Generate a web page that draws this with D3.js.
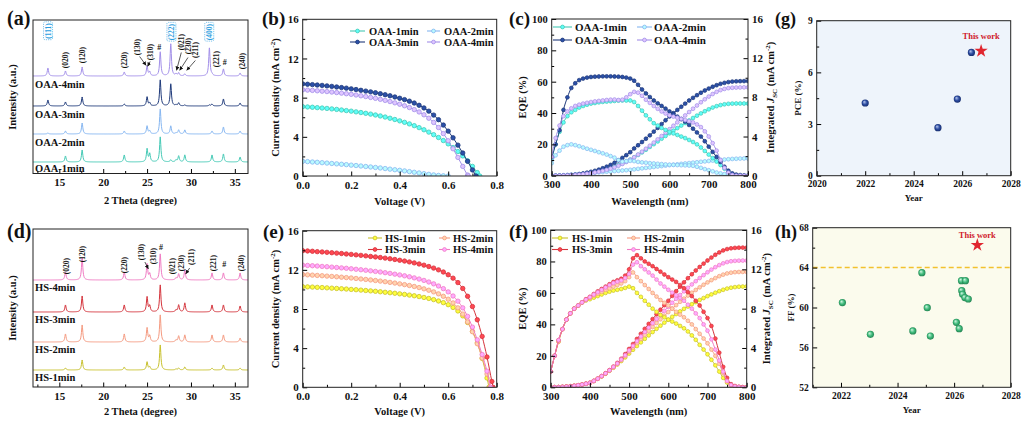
<!DOCTYPE html>
<html><head><meta charset="utf-8">
<script src="https://cdn.jsdelivr.net/npm/d3@7"></script>
<style>
body{margin:0;background:#fff;}
svg{display:block;}
text{font-family:"Liberation Serif","Times New Roman",serif;font-weight:bold;fill:#111;}
</style>
</head><body>
<svg id="c" width="1024" height="426"></svg>
<script>
// ---------------- DATA ----------------
const oaaNames = ['OAA-1min','OAA-2min','OAA-3min','OAA-4min'];
const hsNames  = ['HS-1min','HS-2min','HS-3min','HS-4min'];
const oaaColors = ['#45c9b5','#86b6f0','#1f3a7a','#a28fe8'];
const hsColors  = ['#c8c12c','#f59a80','#d5343c','#f07cc3'];

// XRD peaks (2theta) and per-sample intensities (a.u.), vertical offsets
const xrdPosA = [13.7,15.7,17.6,22.4,25.0,25.3,26.5,27.7,28.3,28.6,29.3,32.1,32.4,33.7,35.6];
const xrdOAA1 = [0,6,12,7,13,8,25,2,2,6,7,0,7,8,5];
const xrdOAA2 = [1,3,11,3,8,3,25,8,1,4,4,0,3,7,3];
const xrdOAA3 = [6,4,9,2,9,3,26,22,1,3,1,1,2,7,3];
const xrdOAA4 = [8,5,9,4,10,4,24,32,2,3,2,28,1,7,3];
const xrdOffsetOAA = [11.5,39.5,67.5,97.5];

const xrdPosD = [15.7,17.6,22.4,25.0,25.3,26.5,28.3,28.6,29.3,32.4,33.7,35.6];
const xrdHS1 = [2,10,3,8,3,25,1,2,3,2,5,2];
const xrdHS2 = [8,17,8,14,6,27,2,6,7,7,7,4];
const xrdHS3 = [7,16,7,15,6,27,2,7,9,7,7,6];
const xrdHS4 = [8,22,8,16,6,26,2,6,10,7,7,7];
const xrdOffsetHS = [17,45,75,107];

// peak labels: [text, 2theta, height(a.u.), highlighted]
const peakLabelsA = [['(111)',13.7,142.5,1],['(020)',15.7,113.5,0],['(120)',17.6,118.5,0],['(220)',22.4,113.5,0],
 ['(130)',23.9,126.5,0],['(310)',25.35,121.5,0],['(222)',27.76,141.5,1],['(021)',28.9,131.5,0],['(230)',29.66,127.5,0],
 ['(211)',30.5,123.5,0],['(400)',32.07,141.5,1],['(221)',32.85,114.5,0],['(240)',35.83,112.5,0]];
const hashA = [[26.4,124],[33.86,109]];
const arrowsA = [[24.15,117,24.9,108],[25.35,112,25.05,107],[28.9,121,28.35,103],[29.66,116,28.7,103],[30.5,113,29.5,103]];
const peakLabelsD = [['(020)',15.76,121],['(120)',17.6,133],['(220)',22.4,122],['(130)',24.3,135],['(310)',25.74,131],
 ['(021)',27.9,121],['(230)',28.9,124],['(211)',30.05,130],['(221)',32.6,124],['(240)',35.8,124]];
const hashD = [[26.6,137],[33.8,120]];
const arrowsD = [[24.75,125,25.15,118],[29.85,119,29.4,113]];

// J-V curves (V, mA cm-2)
const voltage = d3.range(0, 40).map(i => +(i * 0.02).toFixed(2));
const jOAA1 = [7.08,7.05,7.02,6.98,6.94,6.90,6.85,6.80,6.74,6.68,6.62,6.55,6.48,6.40,6.32,6.23,6.13,6.02,5.90,5.77,5.63,5.48,5.32,5.14,4.94,4.72,4.48,4.22,3.93,3.62,3.28,2.91,2.50,2.05,1.55,0.98,0.35];
const jOAA2 = [1.50,1.47,1.43,1.40,1.36,1.32,1.28,1.24,1.20,1.16,1.11,1.07,1.02,0.97,0.92,0.87,0.82,0.76,0.70,0.64,0.58,0.52,0.45,0.38,0.31,0.24,0.17,0.11,0.06,0.02];
const jOAA3 = [9.40,9.37,9.33,9.29,9.25,9.20,9.15,9.09,9.03,8.97,8.90,8.83,8.75,8.67,8.59,8.50,8.40,8.30,8.19,8.07,7.94,7.80,7.64,7.45,7.22,6.95,6.62,6.22,5.75,5.20,4.58,3.90,3.15,2.35,1.50,0.62];
const jOAA4 = [8.80,8.77,8.74,8.70,8.66,8.62,8.57,8.52,8.46,8.40,8.34,8.27,8.19,8.11,8.02,7.93,7.83,7.72,7.60,7.47,7.33,7.17,6.99,6.78,6.54,6.25,5.90,5.47,4.95,4.33,3.60,2.78,1.90,0.98,0.10];
const vocOAA = [0.73,0.60,0.715,0.683];
const jHS1 = [10.28,10.26,10.24,10.21,10.19,10.16,10.13,10.10,10.07,10.04,10.00,9.97,9.93,9.89,9.85,9.81,9.76,9.71,9.66,9.61,9.55,9.49,9.42,9.35,9.27,9.18,9.08,8.96,8.82,8.65,8.44,8.16,7.80,7.30,6.62,5.72,4.55,2.95,0.95];
const jHS2 = [11.52,11.49,11.46,11.43,11.40,11.36,11.33,11.29,11.25,11.21,11.17,11.12,11.07,11.02,10.97,10.91,10.85,10.79,10.72,10.65,10.57,10.49,10.40,10.30,10.19,10.06,9.92,9.75,9.55,9.30,9.00,8.62,8.12,7.48,6.68,5.68,4.45,3.00,1.35];
const jHS3 = [13.96,13.93,13.90,13.86,13.83,13.79,13.75,13.71,13.67,13.62,13.58,13.53,13.48,13.43,13.37,13.32,13.26,13.20,13.13,13.06,12.98,12.90,12.81,12.71,12.60,12.48,12.34,12.18,12.00,11.78,11.50,11.15,10.70,10.10,9.30,8.25,6.90,5.20,3.10,0.60];
const jHS4 = [12.48,12.45,12.42,12.39,12.35,12.32,12.28,12.24,12.20,12.16,12.11,12.06,12.01,11.96,11.90,11.84,11.78,11.71,11.64,11.56,11.48,11.39,11.29,11.18,11.06,10.92,10.76,10.57,10.35,10.08,9.75,9.33,8.80,8.12,7.25,6.15,4.85,3.35,1.65];
const vocHS = [0.768,0.772,0.785,0.775];

// EQE (%) and integrated Jsc (mA cm-2), 300-800 nm
const wavelength = d3.range(300, 801, 10);
const eqeOAA1 = [10,20,28,34,38,40.5,42,43.5,44.5,45.3, 46,46.4,46.8,47.1,47.3,47.5,47.7,47.9,48,48, 48,47,44.5,41.5,38.5,36,33.5,32,30.5,29.2, 28,27,26,25,24,22.8,21.5,20,18,15.8, 13.5,11.2,9,6.8,4.5,2.5,1,0.3,0,0, 0];
const eqeOAA2 = [8,13,16,18.5,19.5,20,19.5,18.8,18,17.2, 16.5,15.8,15,14.3,13.5,12.5,11.5,10,9,9.3, 9.5,9.3,8.8,8.5,8.3,8,7.8,7.6,7.4,7.2, 7,6.9,6.8,6.7,6.6,6.5,6.3,5.7,5,4.2, 3.5,2.8,2,1.5,1,0.6,0.3,0.1,0,0, 0];
const eqeOAA3 = [12,20,29,42,50,56,59,61,62,62.6, 63,63.2,63.3,63.4,63.4,63.4,63.3,63.2,63,62.6, 62,60.6,58,55,52.5,50.2,48,46.2,44.5,42.8, 41,39.3,37.7,36.1,34.5,32.4,30,27.6,25,22, 18.5,15.2,12,8.8,5.7,3.2,1.5,0.7,0.4,0.2, 0];
const eqeOAA4 = [12,24,32,38,41,43,44.5,45.3,46,46.5, 47,47.4,47.7,48,48.3,48.5,48.6,48.3,48.5,50, 52,53.5,53,51,48.5,46.5,44.5,42.7,41,39.7, 38.5,37.7,37,36.2,35.5,34.8,34,32.7,31,28.3, 25,20.8,16,10,5,2,0.5,0,0,0, 0];
const jscOAA1 = [0,0,0.01,0.02,0.03,0.05,0.08,0.12,0.17,0.22, 0.28,0.35,0.44,0.54,0.65,0.78,0.92,1.08,1.26,1.45, 1.65,1.88,2.12,2.38,2.65,2.94,3.22,3.50,3.78,4.06, 4.33,4.60,4.86,5.12,5.38,5.64,5.89,6.13,6.36,6.58, 6.78,6.96,7.10,7.21,7.29,7.34,7.36,7.37,7.37,7.37, 7.37];
const jscOAA2 = [0,0.01,0.03,0.05,0.08,0.11,0.14,0.17,0.21,0.24, 0.27,0.31,0.34,0.37,0.41,0.44,0.47,0.50,0.53,0.56, 0.60,0.65,0.70,0.75,0.80,0.84,0.89,0.94,0.98,1.03, 1.08,1.12,1.16,1.21,1.25,1.29,1.33,1.37,1.42,1.46, 1.50,1.54,1.58,1.62,1.65,1.68,1.71,1.73,1.75,1.76, 1.76];
const jscOAA3 = [0,0,0.01,0.02,0.04,0.07,0.11,0.16,0.23,0.31, 0.40,0.50,0.62,0.76,0.92,1.10,1.32,1.56,1.82,2.10, 2.40,2.78,3.11,3.44,3.78,4.12,4.50,4.88,5.27,5.66, 6.05,6.39,6.72,7.04,7.36,7.68,7.95,8.22,8.47,8.70, 8.90,9.08,9.24,9.38,9.48,9.56,9.61,9.64,9.65,9.66, 9.66];
const jscOAA4 = [0,0,0.01,0.02,0.03,0.05,0.08,0.11,0.15,0.20, 0.26,0.33,0.41,0.50,0.60,0.72,0.86,1.02,1.20,1.40, 1.62,1.88,2.16,2.45,2.75,3.06,3.38,3.71,4.05,4.40, 4.75,5.10,5.45,5.80,6.15,6.50,6.84,7.17,7.50,7.80, 8.08,8.34,8.56,8.74,8.86,8.94,8.98,9.00,9.01,9.02, 9.02];
const eqeHS1 = [10,20,29,37,43,47,50,52,54,55.2, 56,57,58,59,60,60.8,61.5,62,62.5,63.2, 64,63,60,57.5,55,52.5,50,48,46,44.5, 43,41.8,40.5,39,37.5,35.5,33,30.2,27,24, 21,17.5,14,10,6,3,1,0.3,0,0, 0];
const eqeHS2 = [10,20,29,37,43,47,50,52,54,55.5, 57,58.3,59.5,60.7,62,63,64,65,66,67.5, 70,73,70,67.5,65,62.5,60,57.7,55.5,53.7, 52,50,48,46.2,44.5,42.3,40,37,34,31, 28,24,20,15,9,4,1.5,0.5,0.2,0, 0];
const eqeHS3 = [10,20,30,37,43,47,50,52,54,56, 57.5,59.3,61,62.5,64,65.5,67,68,69,71, 75,82,84,82,80,78.5,77,75.2,73.5,71.7, 70,68.5,67,65,63,60.5,58,55,52,48, 44,39,31,22,13,6,2,0.8,0.3,0.1, 0];
const eqeHS4 = [10,20,30,37,43,47,50,52,54,55.8, 57.3,59,60.5,62,63.5,65,66.3,67.2,68,69.5, 72,78,79.5,77,75,73,71,68.5,66,64, 62,60.2,58.5,56.8,55,52.5,50,47,44,40, 36,30.5,24,17,10,4,1.5,0.5,0.2,0, 0];
const jscHS1 = [0,0.01,0.02,0.04,0.07,0.10,0.15,0.21,0.28,0.36, 0.45,0.64,0.86,1.11,1.38,1.68,1.99,2.32,2.67,3.04, 3.43,3.82,4.20,4.57,4.93,5.28,5.62,5.95,6.27,6.58, 6.88,7.17,7.45,7.72,7.98,8.22,8.45,8.67,8.88,9.08, 9.27,9.45,9.62,9.78,9.92,10.04,10.13,10.19,10.23,10.25, 10.26];
const jscHS2 = [0,0.01,0.02,0.04,0.07,0.10,0.15,0.21,0.28,0.36, 0.45,0.65,0.88,1.13,1.41,1.70,2.03,2.38,2.76,3.17, 3.61,4.05,4.49,4.92,5.34,5.75,6.15,6.54,6.92,7.29, 7.65,8.01,8.36,8.70,9.02,9.33,9.62,9.90,10.17,10.43, 10.67,10.90,11.11,11.30,11.46,11.58,11.66,11.71,11.73,11.74, 11.74];
const jscHS3 = [0,0.01,0.02,0.04,0.07,0.10,0.15,0.21,0.28,0.36, 0.45,0.65,0.88,1.14,1.43,1.75,2.10,2.48,2.90,3.38, 3.90,4.40,4.92,5.44,5.95,6.45,6.94,7.42,7.89,8.35, 8.80,9.30,9.78,10.24,10.68,11.10,11.50,11.88,12.24,12.58, 12.90,13.20,13.48,13.72,13.92,14.06,14.14,14.18,14.20,14.21, 14.21];
const jscHS4 = [0,0.01,0.02,0.04,0.07,0.10,0.15,0.21,0.28,0.36, 0.45,0.65,0.88,1.14,1.42,1.73,2.07,2.43,2.83,3.27, 3.75,4.22,4.70,5.17,5.63,6.08,6.52,6.95,7.37,7.78, 8.18,8.60,9.00,9.39,9.76,10.12,10.46,10.79,11.11,11.41, 11.70,11.97,12.22,12.43,12.61,12.74,12.82,12.86,12.88,12.89, 12.89];

// literature comparison
const pceYears = [2022.0, 2025.0, 2025.8, 2026.38];
const pceValues = [4.22, 2.79, 4.45, 7.16];
const pceThisWork = [2026.78, 7.24];
const ffYears = [2022.05, 2023.04, 2024.54, 2024.86, 2025.05, 2025.16, 2026.08, 2026.18, 2026.26, 2026.40, 2026.27, 2026.30, 2026.38, 2026.50];
const ffValues = [60.49, 57.31, 57.65, 63.49, 59.98, 57.14, 58.51, 57.88, 62.69, 62.69, 61.69, 61.32, 60.99, 60.85];
const ffThisWork = [2026.82, 66.26];
const ffBenchmark = 64;

// ---------------- DRAW ----------------
const svg = d3.select('#c');
const defs = svg.append('defs');
defs.append('marker').attr('id','arr').attr('viewBox','0 0 6 6').attr('refX',6).attr('refY',3)
  .attr('markerWidth',4).attr('markerHeight',4).attr('markerUnits','userSpaceOnUse').attr('orient','auto')
  .append('path').attr('d','M0,0L6,3L0,6z').attr('fill','#111');
function sphereGrad(id, c0, c1, c2){
  const g = defs.append('radialGradient').attr('id',id).attr('cx','50%').attr('cy','50%').attr('r','55%').attr('fx','35%').attr('fy','32%');
  g.append('stop').attr('offset','0%').attr('stop-color',c0);
  g.append('stop').attr('offset','55%').attr('stop-color',c1);
  g.append('stop').attr('offset','100%').attr('stop-color',c2);
}
sphereGrad('gBlue','#b9c9f0','#2b4ba0','#142a68');
sphereGrad('gGreen','#d4f7e4','#40bb7c','#1d7a4a');

let clipN = 0;
function panel(o){
  const x = d3.scaleLinear().domain(o.xd).range([o.l,o.r]);
  const y = d3.scaleLinear().domain(o.yd).range([o.b,o.t]);
  const g = svg.append('g');
  if (o.bg) g.append('rect').attr('x',o.l).attr('y',o.t).attr('width',o.r-o.l).attr('height',o.b-o.t).attr('fill',o.bg);
  const id = 'clip'+(clipN++);
  defs.append('clipPath').attr('id',id).append('rect').attr('x',o.l).attr('y',o.t).attr('width',o.r-o.l).attr('height',o.b-o.t);
  const plot = g.append('g').attr('clip-path',`url(#${id})`);
  return {x,y,g,plot,o};
}
function axes(p, a){
  const {x,y,g,o} = p;
  const fs = a.fs || 11;
  const fsy = a.fsy || fs;
  const clean = s => s.select('.domain').remove();
  if (a.xMinor) g.append('g').attr('transform',`translate(0,${o.b})`).call(d3.axisBottom(x).tickValues(a.xMinor).tickSize(-2.5).tickFormat('')).call(clean);
  g.append('g').attr('transform',`translate(0,${o.b})`).call(d3.axisBottom(x).tickValues(a.xTicks).tickSize(-4.5).tickPadding(5).tickFormat(a.xFmt||d3.format('d'))).call(clean).attr('font-size',fs);
  if (a.yTicks){
    if (a.yMinor) g.append('g').attr('transform',`translate(${o.l},0)`).call(d3.axisLeft(y).tickValues(a.yMinor).tickSize(-2.5).tickFormat('')).call(clean);
    g.append('g').attr('transform',`translate(${o.l},0)`).call(d3.axisLeft(y).tickValues(a.yTicks).tickSize(-4.5).tickPadding(4).tickFormat(a.yFmt||d3.format('d'))).call(clean).attr('font-size',fsy);
  }
  if (a.y2){
    if (a.y2Minor) g.append('g').attr('transform',`translate(${o.r},0)`).call(d3.axisRight(a.y2).tickValues(a.y2Minor).tickSize(-2.5).tickFormat('')).call(clean);
    g.append('g').attr('transform',`translate(${o.r},0)`).call(d3.axisRight(a.y2).tickValues(a.y2Ticks).tickSize(-4.5).tickPadding(4).tickFormat(d3.format('d'))).call(clean).attr('font-size',fs);
  }
}
function frame(p){
  const o = p.o;
  p.g.append('rect').attr('x',o.l).attr('y',o.t).attr('width',o.r-o.l).attr('height',o.b-o.t)
    .attr('fill','none').attr('stroke','#222').attr('stroke-width',1);
}
function label(txt, x, y, fs){ svg.append('text').attr('x',x).attr('y',y).attr('font-size',fs||20).text(txt); }
function xTitle(txt, cx, y, fs){ svg.append('text').attr('x',cx).attr('y',y).attr('text-anchor','middle').attr('font-size',fs||10.5).text(txt); }
function yTitle(parts, cx, cy, fs){
  const t = svg.append('text').attr('transform',`translate(${cx},${cy}) rotate(-90)`).attr('text-anchor','middle').attr('font-size',fs||10.5);
  parts.forEach(pt => {
    const s = t.append('tspan').text(pt.t);
    if (pt.dy) s.attr('dy',pt.dy);
    if (pt.fs) s.attr('font-size',pt.fs);
    if (pt.it) s.attr('font-style','italic');
  });
}
const jTitle = [{t:'Current density (mA cm'},{t:'-2',fs:7,dy:-4},{t:')',dy:4}];
const jscTitle = [{t:'Integrated '},{t:'J',it:1},{t:'SC',fs:7,dy:3},{t:' (mA cm',dy:-3},{t:'-2',fs:7,dy:-4},{t:')',dy:4}];

function legend(names, colors, cols, rows, fs, tx){
  names.forEach((n,i)=>{
    const c = i%2, r = Math.floor(i/2);
    const [x1,x2] = cols[c];
    const g = svg.append('g');
    g.append('line').attr('x1',x1).attr('x2',x2).attr('y1',rows[r]).attr('y2',rows[r]).attr('stroke',colors[i]).attr('stroke-width',1.1);
    g.append('circle').attr('cx',(x1+x2)/2).attr('cy',rows[r]).attr('r',1.9).attr('fill',d3.color(colors[i]).brighter(0.9)).attr('stroke',colors[i]).attr('stroke-width',0.8);
    g.append('text').attr('x',tx[c]).attr('y',rows[r]).attr('dy','0.35em').attr('font-size',fs).text(n);
  });
}

// XRD
function xrdPanel(p, pos, sets, offsets, colors, names, labels, hashes, arrows, nameDy, nameMax){
  const grid = d3.range(12, 36.55, 0.04).concat(pos).sort((a,b)=>a-b);
  sets.forEach((hs,k)=>{
    const pts = grid.map(t => [t, offsets[k] + d3.sum(pos, (pp,i)=> hs[i]/(1+Math.pow((t-pp)/0.09,2)))]);
    p.plot.append('path').attr('d', d3.line().x(d=>p.x(d[0])).y(d=>p.y(d[1]))(pts))
      .attr('fill','none').attr('stroke',colors[k]).attr('stroke-width',1);
    const ly = Math.min(p.y(offsets[k]) + nameDy, nameMax);
    svg.append('text').attr('x',p.o.l+2).attr('y',ly).attr('font-size',10.5).text(names[k]);
  });
  labels.forEach(l=>{
    const g = svg.append('g').attr('transform',`translate(${p.x(l[1])},${p.y(l[2])}) rotate(-90)`);
    const t = g.append('text').attr('text-anchor','middle').attr('dy','0.35em').attr('font-size',7.5).text(l[0]);
    if (l[3]){
      t.style('fill','#2a9de0');
      const bb = t.node().getBBox();
      g.insert('rect','text').attr('x',bb.x-1).attr('y',bb.y).attr('width',bb.width+2).attr('height',bb.height)
        .attr('rx',1.5).attr('fill','none').attr('stroke','#2a9de0').attr('stroke-width',0.6).attr('stroke-dasharray','1.2,1');
    }
  });
  hashes.forEach(h=> svg.append('text').attr('x',p.x(h[0])).attr('y',p.y(h[1])).attr('text-anchor','middle').attr('font-size',8).text('#'));
  arrows.forEach(a=> svg.append('line').attr('x1',p.x(a[0])).attr('y1',p.y(a[1])).attr('x2',p.x(a[2])).attr('y2',p.y(a[3]))
    .attr('stroke','#111').attr('stroke-width',0.7).attr('marker-end','url(#arr)'));
}

// (a)
const pa = panel({l:33,r:248,t:20,b:173.5,xd:[12,36.5],yd:[0,153.5]});
xrdPanel(pa, xrdPosA, [xrdOAA1,xrdOAA2,xrdOAA3,xrdOAA4], xrdOffsetOAA, oaaColors, oaaNames, peakLabelsA, hashA, arrowsA, 12, 171.5);
axes(pa, {xTicks:[15,20,25,30,35], xMinor:[12.5,17.5,22.5,27.5,32.5], fs:11});
frame(pa);
label('(a)', 7, 25);
xTitle('2 Theta (degree)', 140.5, 204);
yTitle([{t:'Intensity (a.u.)'}], 16, 97);

// (d)
const pd = panel({l:33,r:248,t:229,b:387,xd:[12,36.5],yd:[0,158]});
xrdPanel(pd, xrdPosD, [xrdHS1,xrdHS2,xrdHS3,xrdHS4], xrdOffsetHS, hsColors, hsNames, peakLabelsD, hashD, arrowsD, 11, 383);
axes(pd, {xTicks:[15,20,25,30,35], xMinor:[12.5,17.5,22.5,27.5,32.5], fs:11});
frame(pd);
label('(d)', 7, 238);
xTitle('2 Theta (degree)', 140.5, 415);
yTitle([{t:'Intensity (a.u.)'}], 16, 308);

// J-V
function jvPanel(p, sets, vocs, colors){
  sets.forEach((js,k)=>{
    const pts = js.map((j,i)=>[voltage[i], j]).concat([[vocs[k], 0]]);
    p.plot.append('path').attr('d', d3.line().x(d=>p.x(d[0])).y(d=>p.y(d[1])).curve(d3.curveMonotoneX)(pts))
      .attr('fill','none').attr('stroke',colors[k]).attr('stroke-width',1);
    p.plot.selectAll(null).data(pts).enter().append('circle')
      .attr('cx',d=>p.x(d[0])).attr('cy',d=>p.y(d[1])).attr('r',2.2)
      .attr('fill',d3.color(colors[k]).brighter(0.9)).attr('stroke',colors[k]).attr('stroke-width',0.8);
  });
}
const pb = panel({l:302.7,r:496.7,t:19.3,b:176,xd:[0,0.8],yd:[0,16]});
jvPanel(pb, [jOAA1,jOAA2,jOAA3,jOAA4], vocOAA, oaaColors);
axes(pb, {xTicks:[0,0.2,0.4,0.6,0.8], xMinor:[0.1,0.3,0.5,0.7], xFmt:d3.format('.1f'), yTicks:[0,4,8,12,16], yMinor:[2,6,10,14]});
frame(pb);
legend(oaaNames, oaaColors, [[350,365],[427,440]], [31,42], 10.5, [369,444]);
label('(b)', 262, 25, 19);
xTitle('Voltage (V)', 399.7, 205);
yTitle(jTitle, 279, 97.6);

const pe = panel({l:302.7,r:496.7,t:230.7,b:387.3,xd:[0,0.8],yd:[0,16]});
jvPanel(pe, [jHS1,jHS2,jHS3,jHS4], vocHS, hsColors);
axes(pe, {xTicks:[0,0.2,0.4,0.6,0.8], xMinor:[0.1,0.3,0.5,0.7], xFmt:d3.format('.1f'), yTicks:[0,4,8,12,16], yMinor:[2,6,10,14]});
frame(pe);
legend(hsNames, hsColors, [[368,382],[439,450]], [238,249.5], 10.5, [385,453]);
label('(e)', 263, 238, 19);
xTitle('Voltage (V)', 399.7, 415);
yTitle(jTitle, 279, 309);

// EQE
function eqePanel(p, eqes, jscs, colors){
  const y2 = d3.scaleLinear().domain([0,16]).range(p.y.range());
  const draw = (arr, ys, k) => {
    const pts = arr.map((v,i)=>[wavelength[i], v]);
    p.plot.append('path').attr('d', d3.line().x(d=>p.x(d[0])).y(d=>ys(d[1])).curve(d3.curveMonotoneX)(pts))
      .attr('fill','none').attr('stroke',colors[k]).attr('stroke-width',1);
    p.plot.selectAll(null).data(pts).enter().append('circle')
      .attr('cx',d=>p.x(d[0])).attr('cy',d=>ys(d[1])).attr('r',1.9)
      .attr('fill',d3.color(colors[k]).brighter(0.9)).attr('stroke',colors[k]).attr('stroke-width',0.7);
  };
  jscs.forEach((a,k)=>draw(a, y2, k));
  eqes.forEach((a,k)=>draw(a, p.y, k));
  return y2;
}
const pc = panel({l:551.7,r:748,t:19,b:175.7,xd:[300,800],yd:[0,100]});
const pcY2 = eqePanel(pc, [eqeOAA1,eqeOAA2,eqeOAA3,eqeOAA4], [jscOAA1,jscOAA2,jscOAA3,jscOAA4], oaaColors);
axes(pc, {xTicks:[300,400,500,600,700,800], xMinor:[350,450,550,650,750], yTicks:[0,20,40,60,80,100], yMinor:[10,30,50,70,90], y2:pcY2, y2Ticks:[0,4,8,12,16], y2Minor:[2,6,10,14], fsy:10.5});
frame(pc);
legend(oaaNames, oaaColors, [[553,572],[637,652]], [27,40], 11, [575,654]);
label('(c)', 509, 25, 19);
xTitle('Wavelength (nm)', 649.8, 205);
yTitle([{t:'EQE (%)'}], 526, 97.3);
yTitle(jscTitle, 774, 97.3);

const pf = panel({l:550.7,r:746.7,t:230,b:387.3,xd:[300,800],yd:[0,100]});
const pfY2 = eqePanel(pf, [eqeHS1,eqeHS2,eqeHS3,eqeHS4], [jscHS1,jscHS2,jscHS3,jscHS4], hsColors);
axes(pf, {xTicks:[300,400,500,600,700,800], xMinor:[350,450,550,650,750], yTicks:[0,20,40,60,80,100], yMinor:[10,30,50,70,90], y2:pfY2, y2Ticks:[0,4,8,12,16], y2Minor:[2,6,10,14], fsy:10.5});
frame(pf);
legend(hsNames, hsColors, [[552,568],[627,640]], [238,249.5], 10.5, [572,644]);
label('(f)', 509, 238, 19);
xTitle('Wavelength (nm)', 648.7, 415);
yTitle([{t:'EQE (%)'}], 526, 308.6);
yTitle(jscTitle, 770, 308.6);

// (g) PCE comparison
const pg = panel({l:816.7,r:1010.7,t:20.7,b:175.7,xd:[2020,2028],yd:[0,9],bg:'#eef4fb'});
pg.plot.selectAll(null).data(pceYears).enter().append('circle')
  .attr('cx',d=>pg.x(d)).attr('cy',(d,i)=>pg.y(pceValues[i])).attr('r',3.6).attr('fill','url(#gBlue)');
pg.plot.append('path').attr('d',d3.symbol(d3.symbolStar,55)()).attr('transform',`translate(${pg.x(pceThisWork[0])},${pg.y(pceThisWork[1])})`).attr('fill','#e0262f');
axes(pg, {xTicks:[2020,2022,2024,2026,2028], xMinor:[2021,2023,2025,2027], yTicks:[0,3,6,9], yMinor:[1.5,4.5,7.5], fs:9.5});
frame(pg);
svg.append('text').attr('x',pg.x(pceThisWork[0])).attr('y',pg.y(pceThisWork[1])-12).attr('text-anchor','middle').attr('font-size',8.5).style('fill','#d0202c').text('This work');
label('(g)', 775, 25, 18);
xTitle('Year', 913.7, 201, 9);
yTitle([{t:'PCE (%)'}], 801, 98.2, 9);

// (h) FF comparison
const ph = panel({l:812.7,r:1010.7,t:227.7,b:387.3,xd:[2021,2028],yd:[52,68],bg:'#fbfbed'});
ph.plot.append('line').attr('x1',ph.o.l).attr('x2',ph.o.r).attr('y1',ph.y(ffBenchmark)).attr('y2',ph.y(ffBenchmark))
  .attr('stroke','#f2c12e').attr('stroke-width',1.5).attr('stroke-dasharray','5,3');
ph.plot.selectAll(null).data(ffYears).enter().append('circle')
  .attr('cx',d=>ph.x(d)).attr('cy',(d,i)=>ph.y(ffValues[i])).attr('r',3.6).attr('fill','url(#gGreen)');
ph.plot.append('path').attr('d',d3.symbol(d3.symbolStar,55)()).attr('transform',`translate(${ph.x(ffThisWork[0])},${ph.y(ffThisWork[1])})`).attr('fill','#e0262f');
axes(ph, {xTicks:[2022,2024,2026,2028], xMinor:[2021,2023,2025,2027], yTicks:[52,56,60,64,68], yMinor:[54,58,62,66], fs:9.5});
frame(ph);
svg.append('text').attr('x',ph.x(ffThisWork[0])).attr('y',ph.y(ffThisWork[1])-7).attr('text-anchor','middle').attr('font-size',8.5).style('fill','#d0202c').text('This work');
label('(h)', 775, 238, 18);
xTitle('Year', 911.7, 413, 9);
yTitle([{t:'FF (%)'}], 794, 307.5, 9);
</script>
</body></html>
